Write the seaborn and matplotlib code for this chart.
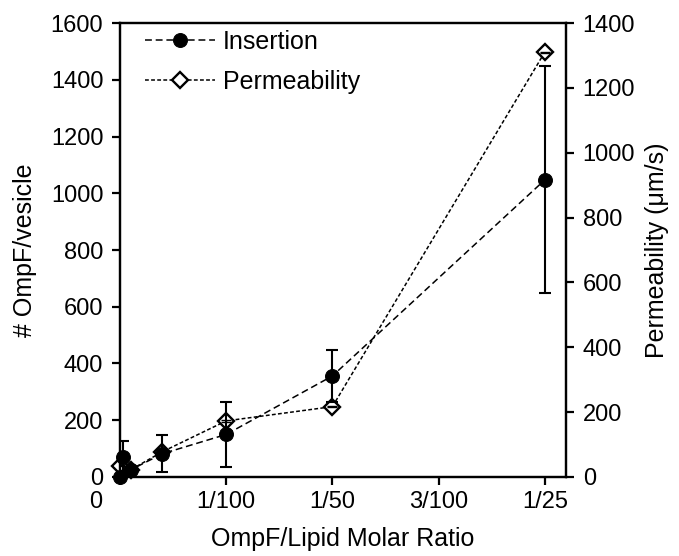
import matplotlib
matplotlib.use("Agg")
import matplotlib.pyplot as plt
import matplotlib.transforms as mtransforms
import seaborn as sns

# OmpF/lipid molar ratio
ins_x = [0.0, 0.0003, 0.001, 0.004, 0.01, 0.02, 0.04]
ins_y = [0, 72, 25, 82, 150, 356, 1047]
ins_err = [0, 55, 10, 65, 115, 92, 400]

perm_x = [0.0, 0.001, 0.004, 0.01, 0.02, 0.04]
perm_y = [35, 22, 78, 173, 217, 1310]
perm_err = [2, 2, 2, 3, 2, 2]

x_ticks = [0, 0.01, 0.02, 0.03, 0.04]
x_ticklabels = ["0", "1/100", "1/50", "3/100", "1/25"]

sns.set_style("ticks")
plt.rcParams["font.family"] = ["Liberation Sans", "DejaVu Sans"]
plt.rcParams["text.color"] = "black"
plt.rcParams["axes.labelcolor"] = "black"

fig = plt.figure(figsize=(6.79, 5.56), dpi=100)
ax = fig.add_axes([0.1767, 0.1421, 0.6569, 0.8165])
ax2 = ax.twinx()
ax.set_zorder(ax2.get_zorder() + 1)
ax.patch.set_visible(False)

sns.lineplot(x=perm_x, y=perm_y, ax=ax2, color="black", linewidth=1.1,
             linestyle=(0, (2.5, 1.5)), marker="D", markersize=8.5,
             markerfacecolor="white", markeredgecolor="black",
             markeredgewidth=1.7, label="Permeability", legend=False,
             clip_on=False)
ax2.errorbar(perm_x, perm_y, yerr=perm_err, fmt="none", ecolor="black",
             elinewidth=1.0, capsize=3.5, capthick=1.0, zorder=5)

sns.lineplot(x=ins_x, y=ins_y, ax=ax, color="black", linewidth=1.1,
             linestyle=(0, (4.5, 2.5)), marker="o", markersize=10,
             markerfacecolor="black", markeredgecolor="black",
             label="Insertion", legend=False, clip_on=False)
ax.errorbar(ins_x, ins_y, yerr=ins_err, fmt="none", ecolor="black",
            elinewidth=1.5, capsize=4, capthick=1.5)

ax.set_xlim(0, 0.042)
ax.set_ylim(0, 1600)
ax2.set_ylim(0, 1400)
ax.set_xticks(x_ticks)
ax.set_xticklabels(x_ticklabels)
ax.set_yticks(range(0, 1601, 200))
ax2.set_yticks(range(0, 1401, 200))

ax.set_xlabel("OmpF/Lipid Molar Ratio", fontsize=18, labelpad=10)
ax.set_ylabel("# OmpF/vesicle", fontsize=18, labelpad=10)
ax2.set_ylabel("Permeability (\u03bcm/s)", fontsize=18, labelpad=7)

for a in (ax, ax2):
    for s in a.spines.values():
        s.set_linewidth(1.6)
        s.set_color("black")
    a.tick_params(axis="both", labelsize=17, width=1.6, length=6,
                  direction="out", colors="black", pad=6)
ax.tick_params(axis="x", pad=4)

# the "0" label sits left of the axis origin in the original
lbl0 = ax.get_xticklabels()[0]
lbl0.set_transform(lbl0.get_transform() +
                   mtransforms.ScaledTranslation(-0.24, 0, fig.dpi_scale_trans))

h1, l1 = ax.get_legend_handles_labels()
h2, l2 = ax2.get_legend_handles_labels()
ax.legend(h1 + h2, l1 + l2, loc="upper left", frameon=False, fontsize=18,
          handlelength=2.8, labelspacing=0.65, borderaxespad=0.0,
          handletextpad=0.33, bbox_to_anchor=(0.033, 1.007))

fig.savefig("out.png", dpi=100)
